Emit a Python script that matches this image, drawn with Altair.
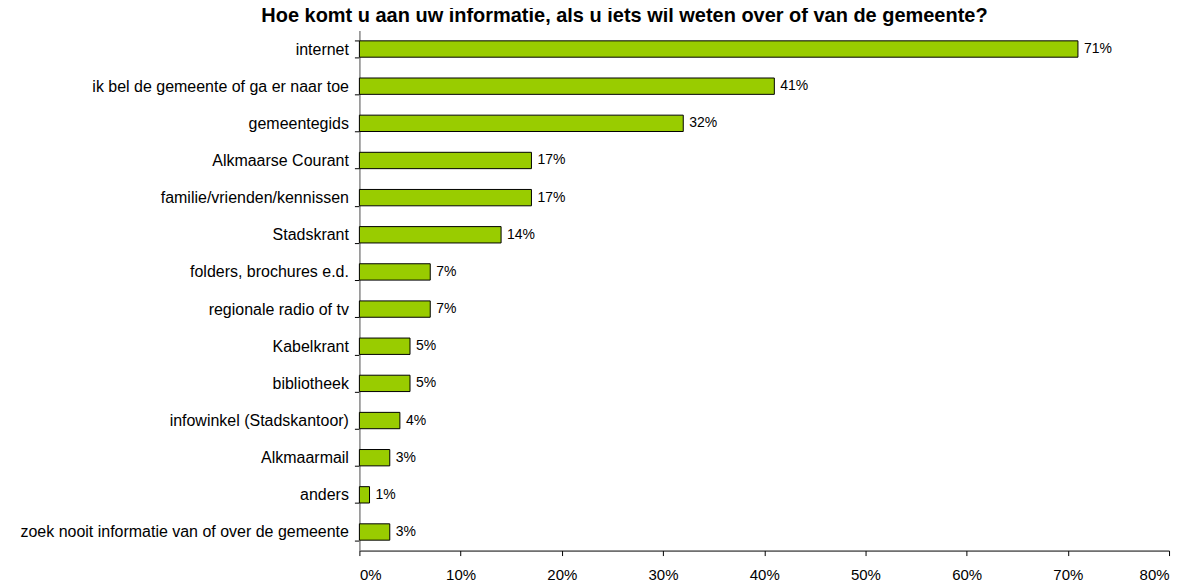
import altair as alt
import pandas as pd

categories = ["internet", "ik bel de gemeente of ga er naar toe", "gemeentegids",
              "Alkmaarse Courant", "familie/vrienden/kennissen", "Stadskrant",
              "folders, brochures e.d.", "regionale radio of tv", "Kabelkrant",
              "bibliotheek", "infowinkel (Stadskantoor)", "Alkmaarmail", "anders",
              "zoek nooit informatie van of over de gemeente"]
values = [71, 41, 32, 17, 17, 14, 7, 7, 5, 5, 4, 3, 1, 3]
labels = [f"{v}%" for v in values]

df = pd.DataFrame({"cat": categories, "val": [v / 100 for v in values], "label": labels})

FONT = "Liberation Sans"

y = alt.Y("cat:N", sort=categories, title=None,
          scale=alt.Scale(paddingInner=0.56, paddingOuter=0.28),
          axis=alt.Axis(labelFont=FONT, labelFontSize=16, labelColor="#000",
                        labelPadding=6, tickBand="extent", tickSize=5,
                        tickColor="#000", domainColor="#888", domainWidth=1.5,
                        labelLimit=400))
x = alt.X("val:Q", title=None,
          scale=alt.Scale(domain=[0, 0.8], nice=False),
          axis=alt.Axis(format=".0%", values=[0, .1, .2, .3, .4, .5, .6, .7, .8],
                        labelFont=FONT, labelFontSize=15, labelColor="#000",
                        labelPadding=12, tickSize=5, tickColor="#000",
                        domainColor="#000", grid=False))

bars = alt.Chart(df).mark_bar(color="#99CC00", stroke="#000", strokeWidth=1).encode(x=x, y=y)
text = alt.Chart(df).mark_text(align="left", dx=6, font=FONT, fontSize=14, color="#000").encode(
    x="val:Q", y=alt.Y("cat:N", sort=categories), text="label:N")

chart = (bars + text).properties(
    width=811, height=521,
    autosize=alt.AutoSizeParams(type="none"),
    padding={"left": 352, "top": 22, "right": 20, "bottom": 32},
    title=alt.TitleParams("Hoe komt u aan uw informatie, als u iets wil weten over of van de gemeente?",
                          font=FONT, fontSize=20, fontWeight="bold", color="#000",
                          anchor="middle", dx=-140, dy=8, offset=4),
).configure_view(stroke=None)

chart.save("out.html", embed_options={"renderer": "svg", "actions": False})
